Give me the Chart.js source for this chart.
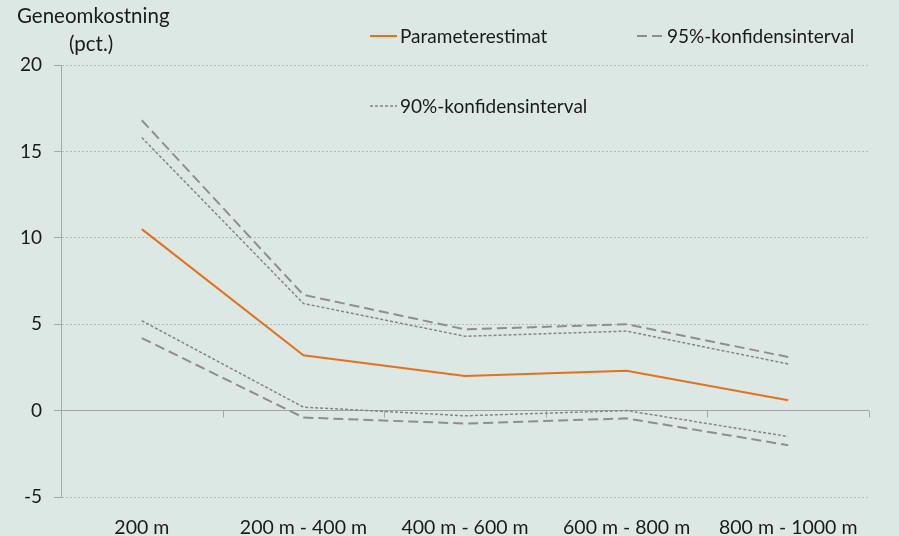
<!DOCTYPE html>
<html>
<head>
<meta charset="utf-8">
<script src="https://cdn.jsdelivr.net/npm/chart.js@4"></script>
<style>
  html, body { margin: 0; padding: 0; background: #dce8e4; }
</style>
</head>
<body>
<canvas id="chart" width="899" height="536"></canvas>
<script>
const categories = ['200 m', '200 m - 400 m', '400 m - 600 m', '600 m - 800 m', '800 m - 1000 m'];
const estimate = [10.5, 3.2, 2.0, 2.3, 0.6];
const upper95 = [16.8, 6.7, 4.7, 5.0, 3.1];
const lower95 = [4.2, -0.4, -0.75, -0.45, -2.0];
const upper90 = [15.8, 6.2, 4.3, 4.6, 2.7];
const lower90 = [5.2, 0.2, -0.3, 0.0, -1.5];
const yMin = -5, yMax = 20, yStep = 5;
const titleLines = ['Geneomkostning', '(pct.)'];

const textColor = '#1b1b1b';
const axisGray = '#a3aaa8';
const fontFamily = 'Lato, "Open Sans", sans-serif';
Chart.defaults.font.family = fontFamily;
Chart.defaults.font.size = 19;
Chart.defaults.color = textColor;

// legend drawn by hand, it sits half inside the plot like the original
const legendSpots = [
  { ds: 0, x: 370, y: 36 },
  { ds: 1, x: 637, y: 36 },
  { ds: 3, x: 370, y: 106 }
];

const extras = {
  id: 'extras',
  beforeDraw(chart) {
    const c = chart.ctx;
    c.save();
    c.fillStyle = '#dce8e4';
    c.fillRect(0, 0, chart.width, chart.height);
    c.restore();
  },
  beforeDatasetsDraw(chart) {
    // little category ticks hanging off the zero line
    const c = chart.ctx, xs = chart.scales.x, ys = chart.scales.y;
    const y0 = ys.getPixelForValue(0);
    const step = (xs.right - xs.left) / categories.length;
    c.save();
    c.strokeStyle = axisGray;
    c.lineWidth = 1;
    for (let i = 0; i <= categories.length; i++) {
      const x = Math.round(xs.left + i * step) + 0.5;
      c.beginPath();
      c.moveTo(x, y0);
      c.lineTo(x, y0 + 7);
      c.stroke();
    }
    c.restore();
  },
  afterDraw(chart) {
    const c = chart.ctx;
    c.save();
    c.fillStyle = textColor;
    c.textBaseline = 'middle';
    c.textAlign = 'left';
    c.font = '20.5px ' + fontFamily;
    c.fillText(titleLines[0], 17, 16);
    c.fillText(titleLines[1], 69, 44);

    c.font = '19px ' + fontFamily;
    legendSpots.forEach(s => {
      const ds = chart.data.datasets[s.ds];
      c.strokeStyle = ds.borderColor;
      c.lineWidth = ds.borderWidth;
      c.setLineDash(ds.borderDash || []);
      c.beginPath();
      c.moveTo(s.x, s.y);
      c.lineTo(s.x + 27, s.y);
      c.stroke();
      c.setLineDash([]);
      c.fillStyle = textColor;
      c.fillText(ds.label, s.x + 30, s.y + 1);
    });
    c.restore();
  }
};

const orange = '#e4711c';
const gray95 = '#8e8e8e';
const gray90 = '#858585';

new Chart(document.getElementById('chart'), {
  type: 'line',
  data: {
    labels: categories,
    datasets: [
      { label: 'Parameterestimat', data: estimate, borderColor: orange, borderWidth: 2 },
      { label: '95%-konfidensinterval', data: upper95, borderColor: gray95, borderWidth: 2, borderDash: [10, 5] },
      { label: '95%-konfidensinterval', data: lower95, borderColor: gray95, borderWidth: 2, borderDash: [10, 5] },
      { label: '90%-konfidensinterval', data: upper90, borderColor: gray90, borderWidth: 1.5, borderDash: [3, 2] },
      { label: '90%-konfidensinterval', data: lower90, borderColor: gray90, borderWidth: 1.5, borderDash: [3, 2] }
    ]
  },
  options: {
    responsive: false,
    animation: false,
    elements: {
      point: { radius: 0, hoverRadius: 0 },
      line: { tension: 0, fill: false }
    },
    layout: { padding: { top: 65, right: 30, left: 0, bottom: 0 } },
    plugins: {
      legend: { display: false },
      tooltip: { enabled: false }
    },
    scales: {
      x: {
        offset: true,
        grid: { display: false, drawTicks: false },
        border: { display: false },
        ticks: { padding: 19, maxRotation: 0, autoSkip: false, color: textColor, font: { size: 19.5 } },
        afterFit: scale => { scale.height = 39; }
      },
      y: {
        min: yMin,
        max: yMax,
        ticks: { stepSize: yStep, padding: 12, color: textColor },
        grid: {
          color: ctx => ctx.tick && ctx.tick.value === 0 ? '#9ea5a3' : '#b3bbb9',
          lineWidth: 1,
          tickLength: 7,
          tickColor: axisGray
        },
        border: {
          display: true,
          color: axisGray,
          dash: ctx => (ctx.tick && ctx.tick.value !== 0) ? [2, 2] : []
        },
        afterFit: scale => { scale.width = 61; }
      }
    }
  },
  plugins: [extras]
});
</script>
</body>
</html>
